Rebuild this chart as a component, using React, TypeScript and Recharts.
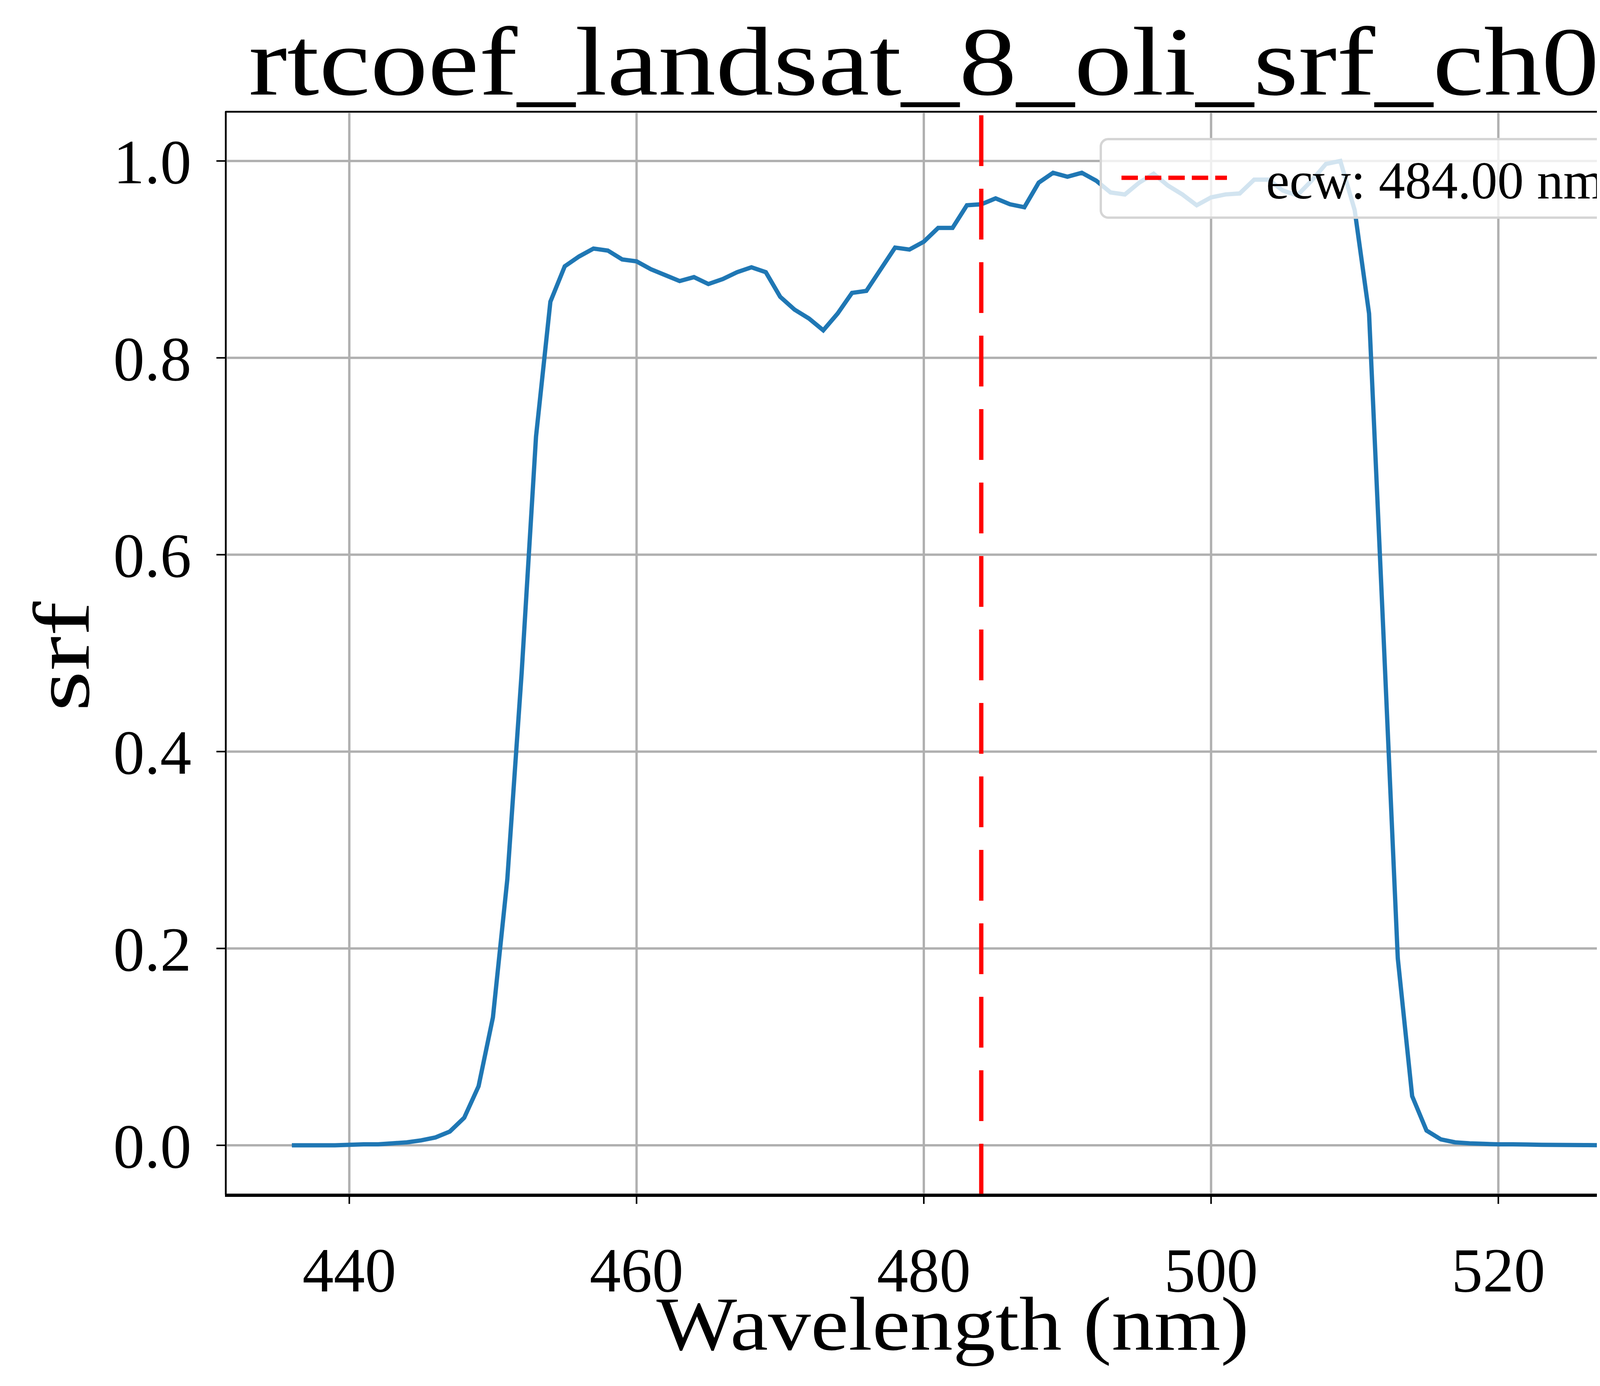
import React from 'react';
import { LineChart, Line, XAxis, YAxis, CartesianGrid, ReferenceLine } from 'recharts';

const wavelengths = [
  436, 437, 438, 439, 440, 441, 442, 443, 444, 445, 446, 447, 448, 449, 450, 451, 452, 453, 454, 455,
  456, 457, 458, 459, 460, 461, 462, 463, 464, 465, 466, 467, 468, 469, 470, 471, 472, 473, 474, 475,
  476, 477, 478, 479, 480, 481, 482, 483, 484, 485, 486, 487, 488, 489, 490, 491, 492, 493, 494, 495,
  496, 497, 498, 499, 500, 501, 502, 503, 504, 505, 506, 507, 508, 509, 510, 511, 512, 513, 514, 515,
  516, 517, 518, 519, 520, 521, 522, 523, 524, 525, 526, 527, 528,
];
const srfValues = [
  0.0, 0.0, 0.0, 0.0, 0.0005, 0.001, 0.001, 0.002, 0.003, 0.005, 0.008, 0.014, 0.028, 0.06, 0.13, 0.27, 0.48, 0.72, 0.857, 0.893,
  0.903, 0.911, 0.909, 0.9, 0.898, 0.89, 0.884, 0.878, 0.882, 0.875, 0.88, 0.887, 0.892, 0.887, 0.862, 0.849, 0.84, 0.828, 0.845, 0.866,
  0.868, 0.89, 0.912, 0.91, 0.918, 0.932, 0.932, 0.955, 0.956, 0.962, 0.956, 0.953, 0.978, 0.988, 0.984, 0.988, 0.98, 0.968, 0.966, 0.978,
  0.987, 0.975, 0.966, 0.955, 0.963, 0.966, 0.967, 0.981, 0.981, 0.97, 0.965, 0.98, 0.997, 1.0, 0.95, 0.845, 0.52, 0.19, 0.05, 0.015,
  0.006, 0.003, 0.002, 0.0015, 0.001, 0.001, 0.0008, 0.0005, 0.0004, 0.0003, 0.0002, 0.0001, 0.0,
];
const xTicks = [440, 460, 480, 500, 520];
const yTicks = [0, 0.2, 0.4, 0.6, 0.8, 1.0];
const ecw = 484;

const data = wavelengths.map((w, i) => ({ w, srf: srfValues[i] }));

const FONT = '"Liberation Serif", "DejaVu Serif", serif';
const W = 4341;
const H = 3530;
// plot area (relative to chart)
const PL = 570, PT = 278, PR = 4291, PB = 3049;
const PC = (PL + PR) / 2;

export default function App() {
  return (
    <div style={{ position: 'relative', width: W, height: H, background: 'white', fontFamily: FONT, overflow: 'hidden' }}>
      <LineChart width={W} height={H} data={data} margin={{ top: PT, right: W - PR, left: 170, bottom: 181 }}>
        <CartesianGrid stroke="#b0b0b0" strokeWidth={6} />
        <XAxis
          dataKey="w"
          type="number"
          domain={[431.4, 532.6]}
          ticks={xTicks}
          allowDataOverflow
          height={300}
          tickSize={24}
          tickMargin={110}
          stroke="#000"
          strokeWidth={4}
          tick={{ fill: '#000', fontSize: 160, fontFamily: FONT }}
        />
        <YAxis
          type="number"
          domain={[-0.05, 1.05]}
          ticks={yTicks}
          allowDataOverflow
          width={400}
          tickSize={24}
          tickMargin={64}
          stroke="#000"
          strokeWidth={4}
          tickFormatter={(v: number) => v.toFixed(1)}
          tick={{ fill: '#000', fontSize: 160, fontFamily: FONT }}
        />
        <Line type="linear" dataKey="srf" stroke="#1f77b4" strokeWidth={11} dot={false} isAnimationActive={false} />
        <ReferenceLine x={ecw} stroke="#ff0000" strokeWidth={11} strokeDasharray="130 58" />
      </LineChart>

      {/* frame */}
      <div style={{ position: 'absolute', left: PL - 2, top: PT - 2, width: PR - PL, height: PB - PT, border: '4px solid #000', pointerEvents: 'none' }} />

      {/* title */}
      <div style={{ position: 'absolute', left: PC, top: 20, transform: 'translateX(-50%) scaleX(1.18)', fontSize: 250, lineHeight: '260px', whiteSpace: 'nowrap' }}>
        rtcoef_landsat_8_oli_srf_ch02
      </div>

      {/* x label */}
      <div style={{ position: 'absolute', left: PC, top: 3270, transform: 'translateX(-50%) scaleX(1.12)', fontSize: 195, lineHeight: '220px', whiteSpace: 'nowrap' }}>
        Wavelength (nm)
      </div>

      {/* y label */}
      <div style={{ position: 'absolute', left: 150, top: 1672, transform: 'translate(-50%, -50%) rotate(-90deg) scaleX(1.3)', fontSize: 205, lineHeight: '220px', whiteSpace: 'nowrap' }}>
        srf
      </div>

      {/* legend */}
      <div style={{ position: 'absolute', left: 2807, top: 345, width: 1405, height: 207, background: 'rgba(255,255,255,0.8)', border: '6px solid #d5d5d5', borderRadius: 22, boxSizing: 'border-box' }}>
        <svg style={{ position: 'absolute', left: 50, top: 86 }} width={280} height={20}>
          <line x1={0} y1={10} x2={270} y2={10} stroke="#ff0000" strokeWidth={11} strokeDasharray="42 18" />
        </svg>
        <div style={{ position: 'absolute', left: 420, top: 34, fontSize: 135, lineHeight: '140px', whiteSpace: 'nowrap' }}>
          ecw: 484.00 nm
        </div>
      </div>
    </div>
  );
}
